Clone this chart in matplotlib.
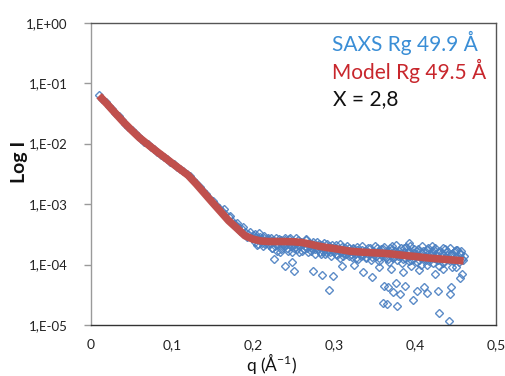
import matplotlib
matplotlib.use("Agg")
import matplotlib.pyplot as plt
from matplotlib.ticker import FixedLocator, NullLocator

plt.rcParams['font.family'] = ['Lato', 'DejaVu Sans']
plt.rcParams['mathtext.fontset'] = 'custom'
plt.rcParams['mathtext.rm'] = 'Lato'
plt.rcParams['mathtext.it'] = 'Lato:italic'

# ---- Model curve (red) ----
model_q = [0.010, 0.020, 0.030, 0.040, 0.050, 0.060, 0.070, 0.080, 0.090, 0.100,
           0.110, 0.120, 0.130, 0.140, 0.150, 0.160, 0.170, 0.180, 0.190, 0.200,
           0.210, 0.220, 0.230, 0.240, 0.250, 0.260, 0.270, 0.280, 0.290, 0.300,
           0.310, 0.320, 0.330, 0.340, 0.350, 0.360, 0.370, 0.380, 0.390, 0.400,
           0.410, 0.420, 0.430, 0.440, 0.450, 0.460]
model_I = [0.062, 0.045, 0.0319, 0.0228, 0.0167, 0.01245, 0.00973, 0.00762, 0.00603, 0.00476,
           0.00378, 0.00299, 0.00215, 0.00151, 0.00106, 0.00075, 0.00053, 0.00040, 0.00030, 0.000263,
           0.000245, 0.000240, 0.000240, 0.000240, 0.000238, 0.000232, 0.000218, 0.000203, 0.000192, 0.000184,
           0.000175, 0.000166, 0.000162, 0.000159, 0.000156, 0.000154, 0.000150, 0.000145, 0.000140, 0.000136,
           0.000131, 0.000127, 0.000124, 0.000121, 0.000118, 0.000115]

# ---- SAXS data (blue diamonds), low q ----
saxs_q_low = [0.010, 0.014, 0.018, 0.022, 0.026, 0.030, 0.034, 0.038, 0.042, 0.046,
              0.050, 0.054, 0.058, 0.062, 0.066, 0.070, 0.074, 0.078, 0.082, 0.086,
              0.090, 0.094, 0.098, 0.102, 0.106, 0.110, 0.114, 0.118, 0.122, 0.126,
              0.130, 0.134, 0.138, 0.142, 0.146, 0.150, 0.154, 0.158, 0.162, 0.166,
              0.170, 0.174, 0.178, 0.182, 0.186, 0.190, 0.194, 0.198,
              0.164, 0.172, 0.176, 0.180, 0.184, 0.188, 0.192, 0.196, 0.199]
saxs_I_low = [0.063, 0.055, 0.0484, 0.0422, 0.0367, 0.0324, 0.0282, 0.0245, 0.0214, 0.0191,
              0.0170, 0.0148, 0.0133, 0.0117, 0.0107, 0.0098, 0.0088, 0.0080, 0.00724, 0.0066,
              0.0061, 0.0055, 0.0050, 0.00457, 0.00417, 0.0038, 0.00347, 0.00316, 0.00288, 0.00251,
              0.00221, 0.00191, 0.00166, 0.00145, 0.00126, 0.00112, 0.00098, 0.00085, 0.00076, 0.00068,
              0.00060, 0.00052, 0.00047, 0.00042, 0.00038, 0.00034, 0.00032, 0.00029,
              0.00082, 0.00064, 0.00046, 0.00049, 0.00036, 0.00042, 0.00029, 0.00035, 0.00027]

# ---- SAXS data, high q band A (q = 0.200 ... 0.460 step 0.002), values in 1e-4 ----
saxs_q_highA = [round(0.200 + 0.002 * i, 3) for i in range(131)]
saxs_I_highA_e4 = [3.1, 2.4, 2.9, 2.2, 3.3, 2.6, 2.0, 2.8, 2.3, 2.5,
                   2.1, 2.7, 1.9, 2.4, 2.2, 1.7, 2.6, 1.8, 2.3, 2.0,
                   2.5, 1.9, 2.2, 2.7, 1.6, 2.1, 2.4, 1.8, 2.5, 2.0,
                   1.7, 2.3, 2.0, 2.6, 1.6, 2.1, 1.9, 2.4, 1.5, 2.0,
                   1.8, 2.2, 1.5, 1.9, 2.3, 1.6, 1.7, 2.0, 1.4, 1.9,
                   1.6, 2.1, 1.45, 1.8, 1.3, 1.95, 1.55, 1.7, 2.05, 1.4,
                   1.65, 1.35, 1.9, 1.5, 1.75, 1.25, 1.6, 2.0, 1.45, 1.7,
                   1.3, 1.85, 1.55, 1.2, 1.7, 2.0, 1.4, 1.6, 1.15, 1.8,
                   1.5, 1.95, 1.3, 1.65, 1.1, 1.75, 2.05, 1.35, 1.55, 1.2,
                   1.7, 1.4, 1.05, 1.9, 1.3, 1.6, 1.15, 2.0, 1.45, 1.25,
                   1.55, 1.1, 1.8, 1.35, 1.0, 1.65, 1.4, 1.2, 1.9, 1.3,
                   1.5, 1.05, 1.75, 1.25, 1.6, 0.95, 1.4, 1.85, 1.15, 1.3,
                   1.7, 1.2, 1.45, 0.9, 1.6, 1.35, 1.75, 1.1, 1.5, 1.25,
                   1.4]

# ---- SAXS data, high q band B (q = 0.201 ... 0.459 step 0.002), values in 1e-4 ----
saxs_q_highB = [round(0.201 + 0.002 * i, 3) for i in range(130)]
saxs_I_highB_e4 = [2.7, 3.2, 2.1, 2.6, 2.9, 2.3, 3.0, 2.2, 2.6, 2.8,
                   2.3, 1.9, 2.5, 2.0, 2.7, 2.2, 1.6, 2.5, 2.1, 2.8,
                   2.2, 1.7, 2.6, 2.0, 2.3, 1.9, 2.7, 2.1, 1.6, 2.4,
                   2.2, 1.8, 2.5, 1.9, 2.3, 1.7, 2.2, 2.0, 1.8, 2.4,
                   2.0, 1.6, 2.1, 1.7, 1.5, 2.2, 1.8, 1.6, 2.1, 1.7,
                   1.9, 1.5, 1.75, 2.2, 1.6, 1.4, 1.85, 1.5, 1.65, 1.9,
                   1.5, 1.8, 1.6, 1.3, 1.95, 1.55, 1.4, 1.75, 1.6, 1.35,
                   1.7, 1.45, 1.9, 1.35, 1.6, 1.5, 1.85, 1.3, 1.65, 1.45,
                   1.8, 1.4, 1.6, 1.25, 1.9, 1.45, 1.3, 1.7, 2.1, 1.4,
                   1.5, 1.85, 1.25, 1.6, 1.95, 1.35, 1.7, 1.2, 1.55, 1.8,
                   1.4, 1.7, 1.2, 1.55, 2.0, 1.3, 1.6, 1.75, 1.15, 1.45,
                   1.65, 1.3, 1.9, 1.4, 1.2, 1.7, 1.55, 1.05, 1.8, 1.45,
                   1.3, 1.85, 1.5, 1.15, 1.65, 1.75, 1.3, 1.55, 1.7, 1.2]

# ---- SAXS data, scattered points ----
saxs_q_out = [0.226, 0.240, 0.251, 0.2486, 0.2745, 0.2856, 0.2934, 0.299, 0.3354, 0.3465,
              0.361, 0.365, 0.362, 0.367, 0.373, 0.378, 0.381, 0.377, 0.388, 0.397,
              0.402, 0.411, 0.4145, 0.430, 0.429, 0.443, 0.442, 0.445, 0.4576, 0.3926,
              0.4215, 0.310, 0.325, 0.355, 0.370, 0.385, 0.405, 0.425, 0.435, 0.450,
              0.455, 0.395, 0.415]
saxs_I_out = [1.23e-4, 9.3e-5, 7.9e-5, 1.11e-4, 7.9e-5, 6.8e-5, 3.8e-5, 6.5e-5, 7.4e-5, 6.2e-5,
              2.35e-5, 2.2e-5, 4.5e-5, 4.3e-5, 3.5e-5, 2.1e-5, 3.2e-5, 5.0e-5, 4.5e-5, 2.6e-5,
              3.7e-5, 4.3e-5, 3.4e-5, 1.6e-5, 3.6e-5, 3.3e-5, 1.15e-5, 4.3e-5, 7.1e-5, 2.25e-4,
              2.0e-4, 9.5e-5, 1.0e-4, 9.0e-5, 8.5e-5, 7.5e-5, 8.0e-5, 7.0e-5, 8.5e-5, 9.0e-5,
              6.0e-5, 9.5e-5, 1.0e-4]

x_ticks = [0, 0.1, 0.2, 0.3, 0.4, 0.5]
x_ticklabels = ["0", "0,1", "0,2", "0,3", "0,4", "0,5"]
y_ticks = [1e0, 1e-1, 1e-2, 1e-3, 1e-4, 1e-5]
y_ticklabels = ["1,E+00", "1,E-01", "1,E-02", "1,E-03", "1,E-04", "1,E-05"]

fig = plt.figure(figsize=(5.05, 3.76), dpi=100)
ax = fig.add_axes([91/505, 1 - 325/376, (496-91)/505, (325-22.7)/376])

saxs_q = saxs_q_low + saxs_q_highA + saxs_q_highB + saxs_q_out
saxs_I = (saxs_I_low + [v * 1e-4 for v in saxs_I_highA_e4]
          + [v * 1e-4 for v in saxs_I_highB_e4] + saxs_I_out)
blue = '#4a7fc1'
ax.plot(saxs_q, saxs_I, linestyle='none', marker='D', markersize=4.3,
        markerfacecolor='none', markeredgecolor=blue, markeredgewidth=1.0, alpha=0.9, zorder=2)
ax.plot(model_q, model_I, color='#c0504d', linewidth=5.5, solid_capstyle='butt', zorder=3)

ax.set_yscale('log')
ax.set_xlim(0, 0.5)
ax.set_ylim(1e-5, 1e0)
ax.yaxis.set_major_locator(FixedLocator(y_ticks))
ax.yaxis.set_minor_locator(NullLocator())
ax.set_yticklabels(y_ticklabels)
ax.set_xticks(x_ticks)
ax.set_xticklabels(x_ticklabels)
ax.tick_params(axis='y', direction='out', length=5, width=1, color='#9a9a9a',
               labelsize=9.5, pad=12, labelcolor='#222222')
ax.tick_params(axis='x', length=0, labelsize=10, pad=10, labelcolor='#222222')

ax.spines['left'].set_color('#9a9a9a')
ax.spines['bottom'].set_color('#333333')
ax.spines['top'].set_color('#555555')
ax.spines['right'].set_color('#555555')
for s in ax.spines.values():
    s.set_linewidth(1.0)

fig.text(332/505, 1 - 43/376, "SAXS Rg 49.9 Å", color='#3a8ed6', fontsize=15, va='center', ha='left')
fig.text(332/505, 1 - 71/376, "Model Rg 49.5 Å", color='#c8262c', fontsize=15, va='center', ha='left')
fig.text(333/505, 1 - 99/376, "X = 2,8", color='#111111', fontsize=15, va='center', ha='left')

fig.text(20/505, 1 - 162/376, "Log I", rotation=90, fontsize=14, fontweight='bold',
         va='center', ha='center', color='#111111')
fig.text(272/505, 1 - 363/376, r"q (Å$^{-1}$)", fontsize=12.5, va='center', ha='center', color='#111111')

fig.savefig("out.png", dpi=100)
